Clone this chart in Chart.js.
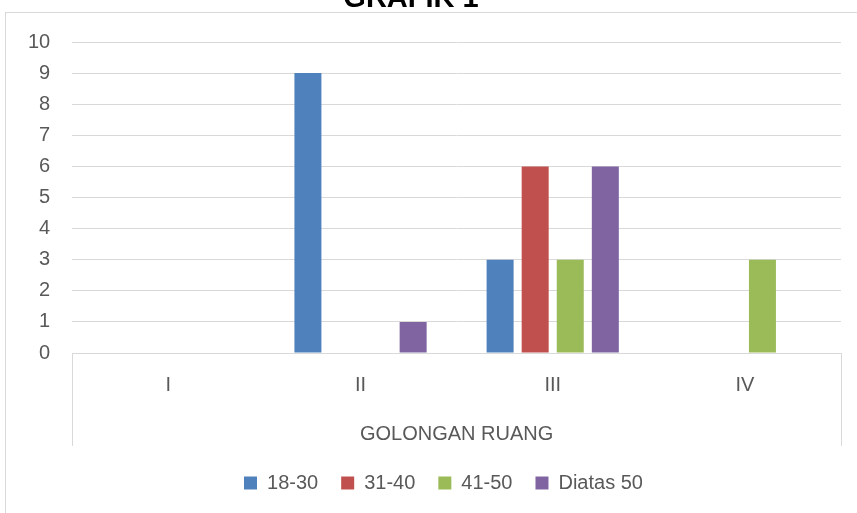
<!DOCTYPE html>
<html>
<head>
<meta charset="utf-8">
<script src="https://cdn.jsdelivr.net/npm/chart.js@4/dist/chart.umd.min.js"></script>
<style>
  html, body { margin: 0; padding: 0; background: #fff; overflow: hidden; width: 857px; height: 513px; }
  #box { position: absolute; left: 5px; top: 12px; width: 875px; height: 520px; border: 1px solid #d9d9d9; }
  #title { position: absolute; left: 311px; top: -19px; width: 200px; text-align: center;
           font: bold 29px "Liberation Sans", Arial, sans-serif; color: #000; }
</style>
</head>
<body>
<div id="box"><canvas id="chart" width="875" height="490"></canvas></div>
<div id="title">GRAFIK 1</div>
<script>
// data
const categories = ['I', 'II', 'III', 'IV'];
const seriesNames = ['18-30', '31-40', '41-50', 'Diatas 50'];
const v18_30 = [0, 9, 3, 0];
const v31_40 = [0, 0, 6, 0];
const v41_50 = [0, 0, 3, 3];
const vDiatas50 = [0, 1, 6, 0];
const colors = ['#4F81BD', '#C0504D', '#9BBB59', '#8064A2'];

const FONT = '"Liberation Sans", Arial, sans-serif';

// garis vertikal di bawah sumbu kategori (gaya Excel) + geser legenda ke tengah kotak
const axisBox = {
  id: 'axisBox',
  afterLayout(chart) {
    const lg = chart.legend;
    if (lg) { lg.left += 20; lg.right += 20; }
  },
  afterDraw(chart) {
    const { ctx, chartArea } = chart;
    ctx.save();
    ctx.strokeStyle = '#d9d9d9';
    ctx.lineWidth = 1;
    ctx.beginPath();
    [chartArea.left, chartArea.right].forEach(x => {
      const px = Math.round(x) + 0.5;
      ctx.moveTo(px, chartArea.bottom);
      ctx.lineTo(px, chartArea.bottom + 93);
    });
    ctx.stroke();
    ctx.restore();
  }
};

new Chart(document.getElementById('chart'), {
  type: 'bar',
  data: {
    labels: categories,
    datasets: [v18_30, v31_40, v41_50, vDiatas50].map((d, i) => ({
      label: seriesNames[i],
      data: d,
      backgroundColor: colors[i],
      categoryPercentage: 0.73,
      barPercentage: 0.77
    }))
  },
  options: {
    responsive: false,
    animation: false,
    layout: { padding: { left: 0, right: 40, top: 0, bottom: 0 } },
    plugins: {
      legend: {
        position: 'bottom',
        labels: {
          color: '#595959',
          font: { family: FONT, size: 20 },
          boxWidth: 13,
          boxHeight: 13,
          padding: 23
        }
      },
      tooltip: { enabled: false }
    },
    scales: {
      x: {
        grid: { display: false },
        border: { color: '#d9d9d9' },
        ticks: { color: '#595959', font: { family: FONT, size: 20 }, padding: 12 },
        title: {
          display: true,
          text: 'GOLONGAN RUANG',
          color: '#595959',
          font: { family: FONT, size: 20 },
          padding: { top: 13, bottom: 4 }
        }
      },
      y: {
        min: 0,
        max: 10,
        afterFit(scale) { scale.paddingTop = 29; },
        ticks: { stepSize: 1, autoSkip: false, color: '#595959', font: { family: FONT, size: 20 }, padding: 22 },
        grid: { color: '#d9d9d9', drawTicks: false },
        border: { display: false }
      }
    }
  },
  plugins: [axisBox]
});
</script>
</body>
</html>
